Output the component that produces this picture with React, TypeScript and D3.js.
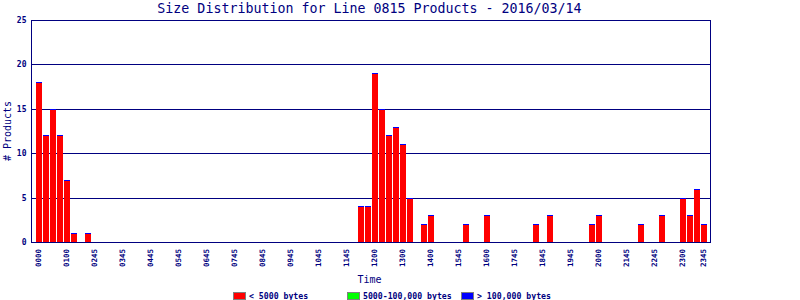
import React from "react";
import * as d3 from "d3";

const TITLE = "Size Distribution for Line 0815 Products - 2016/03/14";

// 96 time slots; tick labels shown on every 4th slot plus the final slot
const tickLabels = [
  "0000", "0100", "0245", "0345", "0445", "0545", "0645", "0745",
  "0845", "0945", "1045", "1145", "1200", "1300", "1400", "1545",
  "1600", "1745", "1845", "1945", "2000", "2145", "2245", "2300",
];
const lastTickLabel = "2345";

// count of products < 5000 bytes per slot
const smallCounts = [
  18, 12, 15, 12, 7, 1, 0, 1, 0, 0, 0, 0, 0, 0, 0, 0,
  0, 0, 0, 0, 0, 0, 0, 0, 0, 0, 0, 0, 0, 0, 0, 0,
  0, 0, 0, 0, 0, 0, 0, 0, 0, 0, 0, 0, 0, 0, 4, 4,
  19, 15, 12, 13, 11, 5, 0, 2, 3, 0, 0, 0, 0, 2, 0, 0,
  3, 0, 0, 0, 0, 0, 0, 2, 0, 3, 0, 0, 0, 0, 0, 2,
  3, 0, 0, 0, 0, 0, 2, 0, 0, 3, 0, 0, 5, 3, 6, 2,
];
// 5000-100,000 bytes and > 100,000 bytes (none recorded)
const mediumCounts = smallCounts.map(() => 0);
const largeCounts = smallCounts.map(() => 0);

const legendItems = ["< 5000 bytes", "5000-100,000 bytes", "> 100,000 bytes"];
const seriesColors = ["#ff0000", "#00ff00", "#0000ff"];

const yTicks = [0, 5, 10, 15, 20, 25];

const NAVY = "#000080";
const FONT = "'DejaVu Sans Mono', monospace";

export default function App() {
  const W = 800;
  const H = 300;
  const left = 31.5;
  const right = 710.5;
  const x = d3
    .scaleBand<number>()
    .domain(d3.range(smallCounts.length))
    .range([36, 36 + 7 * smallCounts.length - 1])
    .paddingInner(1 / 7)
    .paddingOuter(0);
  const y = d3.scaleLinear().domain([0, 25]).range([242.5, 20.5]);
  const py = (v: number) => Math.round(y(v) - 0.5) + 0.5;
  const baseRow = 242;

  const ticks: { i: number; label: string }[] = tickLabels.map((l, k) => ({ i: k * 4, label: l }));
  ticks.push({ i: smallCounts.length - 1, label: lastTickLabel });

  return (
    <svg width={W} height={H} style={{ position: "absolute", left: 0, top: 0, background: "#fff" }}>
      <rect x={0} y={0} width={W} height={H} fill="#fff" />
      <text x={369.5} y={13} textAnchor="middle" fontFamily={FONT} fontSize={13.3} fill={NAVY}>
        {TITLE}
      </text>
      {/* gridlines */}
      {yTicks.slice(1).map((t) => (
        <line key={t} x1={left} x2={right} y1={py(t)} y2={py(t)} stroke={NAVY} strokeWidth={1} />
      ))}
      {/* bars */}
      {smallCounts.map((s, i) => {
        const total = s + mediumCounts[i] + largeCounts[i];
        if (total <= 0) return null;
        const x0 = x(i)!;
        const bw = x.bandwidth();
        const top = Math.floor(y(total));
        const redTop = Math.floor(y(s));
        const medTop = Math.floor(y(s + mediumCounts[i]));
        return (
          <g key={i}>
            <rect x={x0} y={redTop} width={bw} height={baseRow - redTop} fill={seriesColors[0]} />
            {mediumCounts[i] > 0 && (
              <rect x={x0} y={medTop} width={bw} height={redTop - medTop} fill={seriesColors[1]} />
            )}
            <rect x={x0} y={top} width={bw} height={Math.max(1, medTop - top)} fill={seriesColors[2]} />
          </g>
        );
      })}
      {/* frame */}
      <line x1={left} x2={left} y1={20} y2={243} stroke={NAVY} />
      <line x1={right} x2={right} y1={20} y2={243} stroke={NAVY} />
      <line x1={left} x2={right} y1={242.5} y2={242.5} stroke={NAVY} />
      {/* y tick labels */}
      {yTicks.map((t) => (
        <text key={t} x={26.5} y={py(t)} dy="0.35em" textAnchor="end" fontFamily={FONT} fontSize={8} fontWeight="bold" fill={NAVY}>
          {t}
        </text>
      ))}
      <text
        transform={`translate(11,131) rotate(-90)`}
        textAnchor="middle"
        fontFamily={FONT}
        fontSize={10}
        fill={NAVY}
      >
        # Products
      </text>
      {/* x tick labels */}
      {ticks.map((t) => (
        <text
          key={t.i}
          transform={`translate(${x(t.i)! + x.bandwidth() / 2 - 0.5},249) rotate(-90)`}
          textAnchor="end"
          dy="0.35em"
          fontFamily={FONT}
          fontSize={7.5}
          fontWeight="bold"
          fill={NAVY}
        >
          {t.label}
        </text>
      ))}
      <text x={369.5} y={283} textAnchor="middle" fontFamily={FONT} fontSize={10} fill={NAVY}>
        Time
      </text>
      {/* legend */}
      {legendItems.map((l, k) => {
        const sx = [233, 347, 461][k];
        return (
          <g key={l}>
            <rect x={sx + 0.5} y={292.5} width={12} height={7} fill={seriesColors[k]} stroke="#808080" />
            <text x={sx + 16} y={298.5} fontFamily={FONT} fontSize={8.2} fontWeight="bold" fill={NAVY}>
              {l}
            </text>
          </g>
        );
      })}
    </svg>
  );
}
